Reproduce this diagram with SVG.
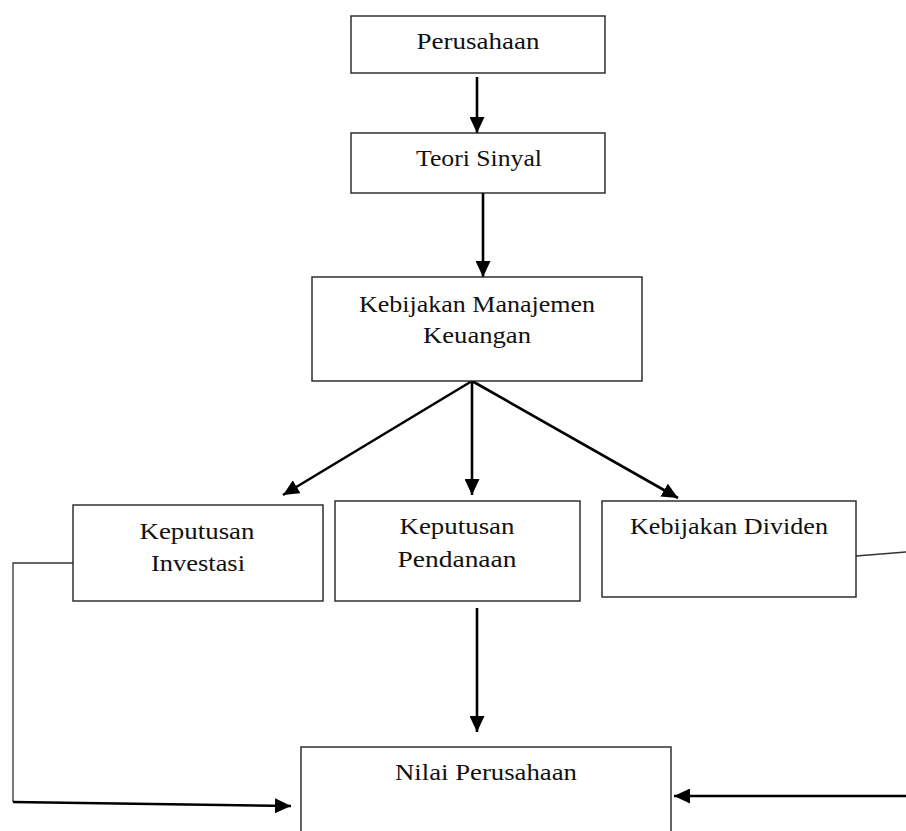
<svg xmlns="http://www.w3.org/2000/svg" width="906" height="831" viewBox="0 0 906 831">
<defs>
<style>
.box{fill:#fff;stroke:#222;stroke-width:1.4}
.t{font-family:"Liberation Serif","DejaVu Serif",serif;font-size:24px;fill:#111;text-anchor:middle}
.a{stroke:#000;stroke-width:2.6;fill:none}
.thin{stroke:#333;stroke-width:1.3;fill:none}
</style>
<marker id="ah" markerUnits="userSpaceOnUse" markerWidth="17" markerHeight="15" refX="16" refY="7.5" orient="auto">
<path d="M0,0 L16,7.5 L0,15 Z" fill="#000"/>
</marker>
</defs>
<rect width="906" height="831" fill="#fff"/>
<g id="connectors">
<line class="a" x1="477" y1="77" x2="477" y2="133" marker-end="url(#ah)"/>
<line class="a" x1="483" y1="193" x2="483" y2="277" marker-end="url(#ah)"/>
<line class="a" x1="472" y1="381" x2="283" y2="495" marker-end="url(#ah)"/>
<line class="a" x1="472" y1="381" x2="472" y2="495" marker-end="url(#ah)"/>
<line class="a" x1="472" y1="381" x2="678" y2="498" marker-end="url(#ah)"/>
<line class="a" x1="477" y1="608" x2="477" y2="732" marker-end="url(#ah)"/>
<polyline class="thin" points="73,563 13,563 13,802"/>
<line class="a" x1="13" y1="802" x2="291" y2="806" marker-end="url(#ah)"/>
<line class="thin" x1="856" y1="556" x2="906" y2="552"/>
<line class="a" x1="906" y1="796" x2="674" y2="796" marker-end="url(#ah)"/>
</g>
<g id="perusahaan">
<rect class="box" x="351" y="16" width="254" height="57"/>
<text class="t" x="478" y="49" textLength="123" lengthAdjust="spacingAndGlyphs">Perusahaan</text>
</g>
<g id="teori-sinyal">
<rect class="box" x="351" y="133" width="254" height="60"/>
<text class="t" x="479" y="166" textLength="126" lengthAdjust="spacingAndGlyphs">Teori Sinyal</text>
</g>
<g id="kebijakan-manajemen">
<rect class="box" x="312" y="277" width="330" height="104"/>
<text class="t" x="477" y="312" textLength="236" lengthAdjust="spacingAndGlyphs">Kebijakan Manajemen</text>
<text class="t" x="477" y="343" textLength="108" lengthAdjust="spacingAndGlyphs">Keuangan</text>
</g>
<g id="keputusan-investasi">
<rect class="box" x="73" y="505" width="250" height="96"/>
<text class="t" x="197" y="539" textLength="115" lengthAdjust="spacingAndGlyphs">Keputusan</text>
<text class="t" x="198" y="571" textLength="94" lengthAdjust="spacingAndGlyphs">Investasi</text>
</g>
<g id="keputusan-pendanaan">
<rect class="box" x="335" y="501" width="245" height="100"/>
<text class="t" x="457" y="534" textLength="115" lengthAdjust="spacingAndGlyphs">Keputusan</text>
<text class="t" x="457" y="567" textLength="119" lengthAdjust="spacingAndGlyphs">Pendanaan</text>
</g>
<g id="kebijakan-dividen">
<rect class="box" x="602" y="501" width="254" height="96"/>
<text class="t" x="729" y="534" textLength="198" lengthAdjust="spacingAndGlyphs">Kebijakan Dividen</text>
</g>
<g id="nilai-perusahaan">
<rect class="box" x="301" y="747" width="370" height="110"/>
<text class="t" x="486" y="780" textLength="182" lengthAdjust="spacingAndGlyphs">Nilai Perusahaan</text>
</g>
</svg>
